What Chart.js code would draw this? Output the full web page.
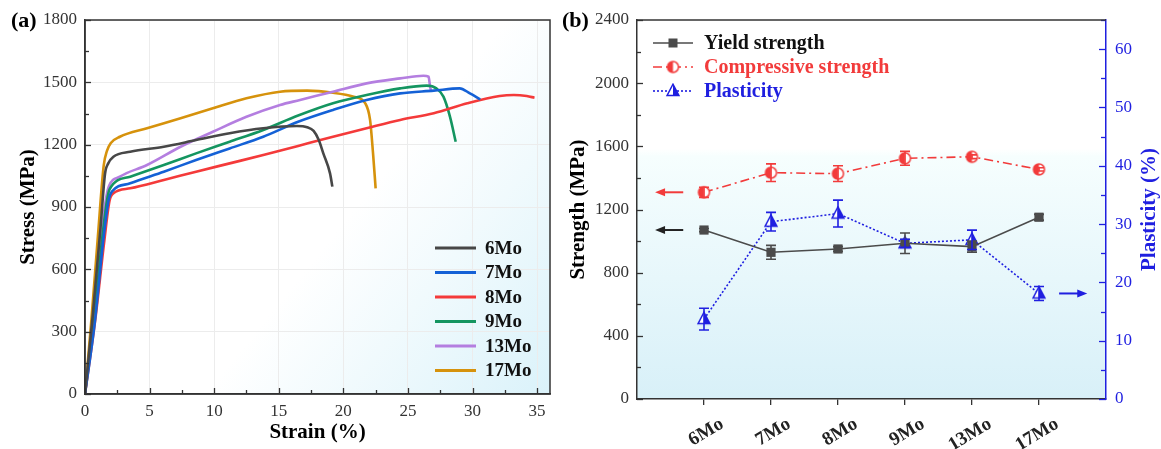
<!DOCTYPE html>
<html><head><meta charset="utf-8">
<script src="https://cdn.jsdelivr.net/npm/chart.js@4.4.0/dist/chart.umd.min.js"></script>
<style>
html,body{margin:0;padding:0;background:#fff;width:1161px;height:449px;overflow:hidden}
#ca{position:absolute;left:0;top:0}
#cb{position:absolute;left:560px;top:0}
</style></head><body>
<canvas id="ca" width="560" height="449"></canvas>
<canvas id="cb" width="601" height="449"></canvas>
<script>
// ---------- Panel (a) data: stress-strain curves ----------
const curveNames = ['6Mo','7Mo','8Mo','9Mo','13Mo','17Mo'];
const strain6Mo  = [0,0.6,1.2,1.55,1.8,2.2,3.5,6.1,8.6,11.2,13.8,16.4,17.2,17.7,18.1,18.45,18.97,19.15];
const stress6Mo  = [0,380,800,1060,1110,1142,1166,1190,1222,1255,1279,1290,1284,1266,1222,1158,1062,998];
const strain7Mo  = [0,0.75,1.45,1.85,2.1,3.5,6.1,8.6,11.2,13.8,16.5,19.2,21.8,24.4,27.0,29.0,29.8,30.6];
const stress7Mo  = [0,340,760,940,975,1014,1070,1126,1182,1238,1310,1367,1415,1447,1460,1471,1447,1418];
const strain8Mo  = [0,0.8,1.5,1.9,2.2,3.5,6.1,8.6,11.2,13.8,16.5,19.2,21.8,24.4,27.0,29.6,32.1,33.2,34.2,34.8];
const stress8Mo  = [0,360,740,930,966,990,1030,1070,1110,1150,1194,1238,1279,1319,1351,1399,1434,1439,1434,1426];
const strain9Mo  = [0,0.7,1.35,1.7,1.9,3.5,6.1,8.6,11.2,13.8,16.5,19.2,21.8,24.4,26.45,27.2,27.75,28.26,28.7];
const stress9Mo  = [0,360,760,930,985,1046,1102,1158,1214,1271,1340,1399,1439,1471,1484,1471,1431,1334,1214];
const strain13Mo = [0,0.65,1.3,1.65,1.85,2.7,4.8,7.4,9.9,12.5,15.1,16.65,19.2,21.8,24.4,26.2,26.6,26.7,26.8];
const stress13Mo = [0,360,780,950,1000,1046,1102,1190,1262,1334,1391,1415,1455,1495,1519,1532,1527,1487,1455];
const strain17Mo = [0,0.5,1.0,1.45,1.7,2.0,2.7,4.8,7.4,9.9,12.5,15.1,17.2,19.2,20.8,21.7,22.07,22.3,22.5];
const stress17Mo = [0,360,760,1100,1170,1208,1238,1279,1327,1375,1423,1455,1460,1450,1431,1399,1319,1158,990];
const curveColors = ['#474747','#1461d6','#f43a3a','#149560','#b47ee0','#d6920c'];
const stressTicks = [0,300,600,900,1200,1500,1800];
const strainTicks = [0,5,10,15,20,25,30,35];

// ---------- Panel (b) data ----------
const categories = ['6Mo','7Mo','8Mo','9Mo','13Mo','17Mo'];
const yieldStrength = [1070, 929, 950, 986, 965, 1151];
const yieldErr      = [10, 44, 15, 65, 35, 18];
const compStrength  = [1309, 1433, 1427, 1524, 1534, 1454];
const compErr       = [32, 56, 50, 44, 12, 10];
const plasticity    = [13.7, 30.4, 31.8, 26.7, 27.3, 18.1];
const plastErr      = [1.86, 1.6, 2.3, 0.7, 1.66, 1.2];
const strengthTicks = [0,400,800,1200,1600,2000,2400];
const plasticityTicks = [0,10,20,30,40,50,60];

const SERIF = "'Liberation Serif','DejaVu Serif',serif";
const AX = '#333333';
const RED = '#f23b3b', GRAY = '#4b4b4b', BLUE = '#1f1fe0';

function toPts(xs, ys){ return xs.map((x,i)=>({x:x, y:ys[i]})); }
const plain = v => String(v);

// ---- inward tick helper ----
function inwardTicks(chart, scaleId, step, minorStep, majLen, minLen, color, side){
  const s = chart.scales[scaleId], a = chart.chartArea, ctx = chart.ctx;
  ctx.save(); ctx.strokeStyle = color; ctx.lineWidth = 1.3;
  for (let v = s.min; v <= s.max + 1e-9; v += minorStep){
    const isMaj = Math.abs(v/step - Math.round(v/step)) < 1e-6;
    const len = isMaj ? majLen : minLen;
    const p = Math.round(s.getPixelForValue(v)) + 0.5;
    ctx.beginPath();
    if (side === 'left'){ ctx.moveTo(a.left, p); ctx.lineTo(a.left + len, p); }
    else if (side === 'right'){ ctx.moveTo(a.right, p); ctx.lineTo(a.right - len, p); }
    else { ctx.moveTo(p, a.bottom); ctx.lineTo(p, a.bottom - len); }
    ctx.stroke();
  }
  ctx.restore();
}

// ================= Chart (a) =================
const panelA = {
  id: 'panelA',
  beforeDraw(chart){
    const a = chart.chartArea, ctx = chart.ctx;
    ctx.save();
    ctx.fillStyle = '#fff'; ctx.fillRect(a.left, a.top, a.right-a.left, a.bottom-a.top);
    const g = ctx.createLinearGradient(a.left, a.top, a.right, a.bottom);
    g.addColorStop(0, 'rgba(220,243,250,0)');
    g.addColorStop(0.55, 'rgba(220,243,250,0)');
    g.addColorStop(1, 'rgba(218,242,250,1)');
    ctx.fillStyle = g; ctx.fillRect(a.left, a.top, a.right-a.left, a.bottom-a.top);
    ctx.restore();
  },
  afterDraw(chart){
    const a = chart.chartArea, ctx = chart.ctx;
    inwardTicks(chart, 'y', 300, 150, 6, 4, AX, 'left');
    inwardTicks(chart, 'x', 5, 2.5, 6, 4, AX, 'bottom');
    ctx.save();
    ctx.strokeStyle = AX; ctx.lineWidth = 1.5;
    ctx.strokeRect(a.left, a.top, a.right-a.left, a.bottom-a.top);
    // legend
    ctx.font = 'bold 19px ' + SERIF; ctx.textBaseline = 'middle'; ctx.fillStyle = '#111';
    const rows = [248, 272.5, 297, 321.5, 346, 370.5];
    curveNames.forEach((n,i)=>{
      ctx.strokeStyle = curveColors[i]; ctx.lineWidth = 3;
      ctx.beginPath(); ctx.moveTo(435, rows[i]); ctx.lineTo(476, rows[i]); ctx.stroke();
      ctx.fillText(n, 485, rows[i]+1);
    });
    // panel label
    ctx.font = 'bold 22px ' + SERIF; ctx.textBaseline = 'alphabetic'; ctx.fillStyle = '#000';
    ctx.fillText('(a)', 11, 27);
    ctx.restore();
  }
};

const dsA = [
  toPts(strain6Mo, stress6Mo), toPts(strain7Mo, stress7Mo), toPts(strain8Mo, stress8Mo),
  toPts(strain9Mo, stress9Mo), toPts(strain13Mo, stress13Mo), toPts(strain17Mo, stress17Mo)
].map((d,i)=>({
  label: curveNames[i], data: d, showLine: true, borderColor: curveColors[i],
  borderWidth: 2.6, pointRadius: 0, cubicInterpolationMode: 'monotone', fill: false
}));

new Chart(document.getElementById('ca'), {
  type: 'scatter',
  data: { datasets: dsA },
  options: {
    responsive: false, animation: false, devicePixelRatio: 1,
    layout: { padding: { left: 0, top: 20, right: 10, bottom: 0 } },
    plugins: { legend: { display: false }, tooltip: { enabled: false } },
    scales: {
      x: {
        type: 'linear', min: 0, max: 36,
        afterBuildTicks: s => { s.ticks = strainTicks.map(v=>({value:v})); },
        afterFit: s => { s.height = 55; },
        ticks: { callback: plain, font: { family: SERIF, size: 17 }, color: '#333', padding: 7, maxRotation: 0 },
        grid: { color: '#ececec', lineWidth: 1, drawTicks: false },
        border: { display: true, color: AX, width: 1.5 },
        title: { display: true, text: 'Strain (%)', font: { family: SERIF, size: 21, weight: 'bold' }, color: '#000', padding: { top: 0, bottom: 4 } }
      },
      y: {
        type: 'linear', min: 0, max: 1800,
        afterBuildTicks: s => { s.ticks = stressTicks.map(v=>({value:v})); },
        afterFit: s => { s.width = 85; },
        ticks: { callback: plain, font: { family: SERIF, size: 17 }, color: '#333', padding: 8 },
        grid: { color: '#ececec', lineWidth: 1, drawTicks: false },
        border: { display: true, color: AX, width: 1.5 },
        title: { display: true, text: 'Stress (MPa)', font: { family: SERIF, size: 21, weight: 'bold' }, color: '#000', padding: { top: 16, bottom: 0 } }
      }
    }
  },
  plugins: [panelA]
});

// ================= Chart (b) =================
function halfCircle(color, r){
  const s = 2*r + 4, c = document.createElement('canvas'); c.width = c.height = s;
  const g = c.getContext('2d'), cx = s/2;
  g.fillStyle = '#fff'; g.beginPath(); g.arc(cx,cx,r,0,2*Math.PI); g.fill();
  g.fillStyle = color; g.beginPath(); g.moveTo(cx,cx); g.arc(cx,cx,r,Math.PI/2,3*Math.PI/2); g.closePath(); g.fill();
  g.strokeStyle = color; g.lineWidth = 1.5; g.beginPath(); g.arc(cx,cx,r,0,2*Math.PI); g.stroke();
  return c;
}
function halfTriangle(color, w){
  const h = w*0.95, s = Math.ceil(w + 4), c = document.createElement('canvas'); c.width = c.height = s;
  const g = c.getContext('2d'), cx = s/2, cy = s/2;
  const top = [cx, cy - h*0.6], bl = [cx - w/2, cy + h*0.4], br = [cx + w/2, cy + h*0.4];
  g.fillStyle = '#fff'; g.beginPath(); g.moveTo(...top); g.lineTo(...bl); g.lineTo(...br); g.closePath(); g.fill();
  g.fillStyle = color; g.beginPath(); g.moveTo(...top); g.lineTo(cx, br[1]); g.lineTo(...br); g.closePath(); g.fill();
  g.strokeStyle = color; g.lineWidth = 1.4; g.beginPath(); g.moveTo(...top); g.lineTo(...bl); g.lineTo(...br); g.closePath(); g.stroke();
  return c;
}
const circImg = halfCircle(RED, 5.5);
const triImg = halfTriangle(BLUE, 12);

function arrow(ctx, x1, x2, y, color){
  const dir = Math.sign(x2 - x1);
  ctx.save(); ctx.strokeStyle = color; ctx.fillStyle = color; ctx.lineWidth = 2;
  ctx.beginPath(); ctx.moveTo(x1, y); ctx.lineTo(x2 - dir*8, y); ctx.stroke();
  ctx.beginPath(); ctx.moveTo(x2, y); ctx.lineTo(x2 - dir*10, y - 4); ctx.lineTo(x2 - dir*10, y + 4); ctx.closePath(); ctx.fill();
  ctx.restore();
}

const panelB = {
  id: 'panelB',
  beforeDraw(chart){
    const a = chart.chartArea, ctx = chart.ctx;
    ctx.save();
    const g = ctx.createLinearGradient(0, a.top, 0, a.bottom);
    g.addColorStop(0, '#ffffff');
    g.addColorStop(0.34, '#ffffff');
    g.addColorStop(0.36, '#f6fefe');
    g.addColorStop(1, '#d8f0f8');
    ctx.fillStyle = g; ctx.fillRect(a.left, a.top, a.right-a.left, a.bottom-a.top);
    ctx.restore();
  },
  afterDatasetsDraw(chart){
    const ctx = chart.ctx;
    chart.data.datasets.forEach((ds)=>{
      const ys = chart.scales[ds.yAxisID], xs = chart.scales.x;
      ctx.save(); ctx.strokeStyle = ds.errColor; ctx.lineWidth = 1.6; ctx.setLineDash([]);
      ds.data.forEach((p, i)=>{
        const e = ds.errorBars[i];
        const x = xs.getPixelForValue(p.x), y1 = ys.getPixelForValue(p.y - e), y2 = ys.getPixelForValue(p.y + e);
        ctx.beginPath();
        ctx.moveTo(x, y1); ctx.lineTo(x, y2);
        ctx.moveTo(x-5, y1); ctx.lineTo(x+5, y1);
        ctx.moveTo(x-5, y2); ctx.lineTo(x+5, y2);
        ctx.stroke();
      });
      ctx.restore();
    });
  },
  afterDraw(chart){
    const a = chart.chartArea, ctx = chart.ctx, xs = chart.scales.x, yl = chart.scales.yL, yr = chart.scales.yR;
    inwardTicks(chart, 'yL', 400, 200, 6, 4, AX, 'left');
    inwardTicks(chart, 'yR', 10, 5, 7, 5, BLUE, 'right');
    ctx.save();
    ctx.strokeStyle = AX; ctx.lineWidth = 1.5;
    ctx.beginPath(); ctx.moveTo(a.left, a.top); ctx.lineTo(a.right, a.top); ctx.stroke();
    // arrows pointing to the axes
    arrow(ctx, xs.getPixelForValue(0.69), xs.getPixelForValue(0.27), yl.getPixelForValue(compStrength[0]), RED);
    arrow(ctx, xs.getPixelForValue(0.69), xs.getPixelForValue(0.27), yl.getPixelForValue(yieldStrength[0]), '#222');
    arrow(ctx, xs.getPixelForValue(6.3), xs.getPixelForValue(6.72), yr.getPixelForValue(plasticity[5]), BLUE);
    // legend
    const rows = [43, 67, 91];
    const lx1 = 93, lx2 = 133, mx = 113, tx = 144;
    ctx.lineWidth = 1.6;
    ctx.strokeStyle = GRAY; ctx.setLineDash([]);
    ctx.beginPath(); ctx.moveTo(lx1, rows[0]); ctx.lineTo(lx2, rows[0]); ctx.stroke();
    ctx.fillStyle = GRAY; ctx.fillRect(mx-4.5, rows[0]-4.5, 9, 9);
    ctx.strokeStyle = RED; ctx.setLineDash([9,4,2,4]);
    ctx.beginPath(); ctx.moveTo(lx1, rows[1]); ctx.lineTo(lx2, rows[1]); ctx.stroke();
    ctx.drawImage(circImg, mx - circImg.width/2, rows[1] - circImg.height/2);
    ctx.strokeStyle = BLUE; ctx.setLineDash([2,2]);
    ctx.beginPath(); ctx.moveTo(lx1, rows[2]); ctx.lineTo(lx2, rows[2]); ctx.stroke();
    ctx.setLineDash([]);
    ctx.drawImage(triImg, mx - triImg.width/2, rows[2] - triImg.height/2);
    ctx.font = 'bold 20px ' + SERIF; ctx.textBaseline = 'middle';
    ctx.fillStyle = '#111'; ctx.fillText('Yield strength', tx, rows[0]+1);
    ctx.fillStyle = RED; ctx.fillText('Compressive strength', tx, rows[1]+1);
    ctx.fillStyle = BLUE; ctx.fillText('Plasticity', tx, rows[2]+1);
    // right axis title (reads bottom to top)
    ctx.save();
    ctx.translate(590, (a.top + a.bottom)/2); ctx.rotate(-Math.PI/2);
    ctx.textAlign = 'center'; ctx.textBaseline = 'middle';
    ctx.font = 'bold 21px ' + SERIF; ctx.fillStyle = BLUE;
    ctx.fillText('Plasticity (%)', 0, 0);
    ctx.restore();
    // panel label
    ctx.font = 'bold 22px ' + SERIF; ctx.textBaseline = 'alphabetic'; ctx.fillStyle = '#000';
    ctx.fillText('(b)', 2, 27);
    ctx.restore();
  }
};

const toCat = arr => arr.map((v,i)=>({x: i+1, y: v}));

new Chart(document.getElementById('cb'), {
  type: 'line',
  data: { datasets: [
    { label: 'Yield strength', data: toCat(yieldStrength), yAxisID: 'yL', errorBars: yieldErr, errColor: GRAY,
      borderColor: GRAY, backgroundColor: GRAY, borderWidth: 1.6, pointStyle: 'rect', pointRadius: 6.5, pointBorderWidth: 0, tension: 0 },
    { label: 'Compressive strength', data: toCat(compStrength), yAxisID: 'yL', errorBars: compErr, errColor: RED,
      borderColor: RED, borderWidth: 1.6, borderDash: [9,4,2,4], pointStyle: circImg, tension: 0 },
    { label: 'Plasticity', data: toCat(plasticity), yAxisID: 'yR', errorBars: plastErr, errColor: BLUE,
      borderColor: BLUE, borderWidth: 1.6, borderDash: [2,2], pointStyle: triImg, tension: 0 }
  ]},
  options: {
    responsive: false, animation: false, devicePixelRatio: 1,
    layout: { padding: { left: 0, top: 20, right: 0, bottom: 0 } },
    plugins: { legend: { display: false }, tooltip: { enabled: false } },
    scales: {
      x: {
        type: 'linear', min: 0, max: 7,
        afterBuildTicks: s => { s.ticks = categories.map((c,i)=>({value: i+1})); },
        afterFit: s => { s.height = 50; },
        ticks: { callback: v => categories[v-1], autoSkip: false, minRotation: 31, maxRotation: 31,
                 font: { family: SERIF, size: 19, weight: 'bold' }, color: '#222', padding: 8, labelOffset: 18 },
        grid: { display: true, drawOnChartArea: false, drawTicks: true, tickLength: 6, color: AX, lineWidth: 1.3 },
        border: { display: true, color: AX, width: 1.5 }
      },
      yL: {
        type: 'linear', position: 'left', min: 0, max: 2400,
        afterBuildTicks: s => { s.ticks = strengthTicks.map(v=>({value:v})); },
        afterFit: s => { s.width = 77; },
        ticks: { callback: plain, font: { family: SERIF, size: 17 }, color: '#333', padding: 8 },
        grid: { display: false, drawTicks: false },
        border: { display: true, color: AX, width: 1.5 },
        title: { display: true, text: 'Strength (MPa)', font: { family: SERIF, size: 21, weight: 'bold' }, color: '#000', padding: { top: 6, bottom: 0 } }
      },
      yR: {
        type: 'linear', position: 'right', min: 0, max: 65,
        afterBuildTicks: s => { s.ticks = plasticityTicks.map(v=>({value:v})); },
        afterFit: s => { s.width = 55; },
        ticks: { callback: plain, font: { family: SERIF, size: 17 }, color: BLUE, padding: 9 },
        grid: { display: false, drawTicks: false },
        border: { display: true, color: BLUE, width: 1.5 }
      }
    }
  },
  plugins: [panelB]
});
</script>
</body></html>
